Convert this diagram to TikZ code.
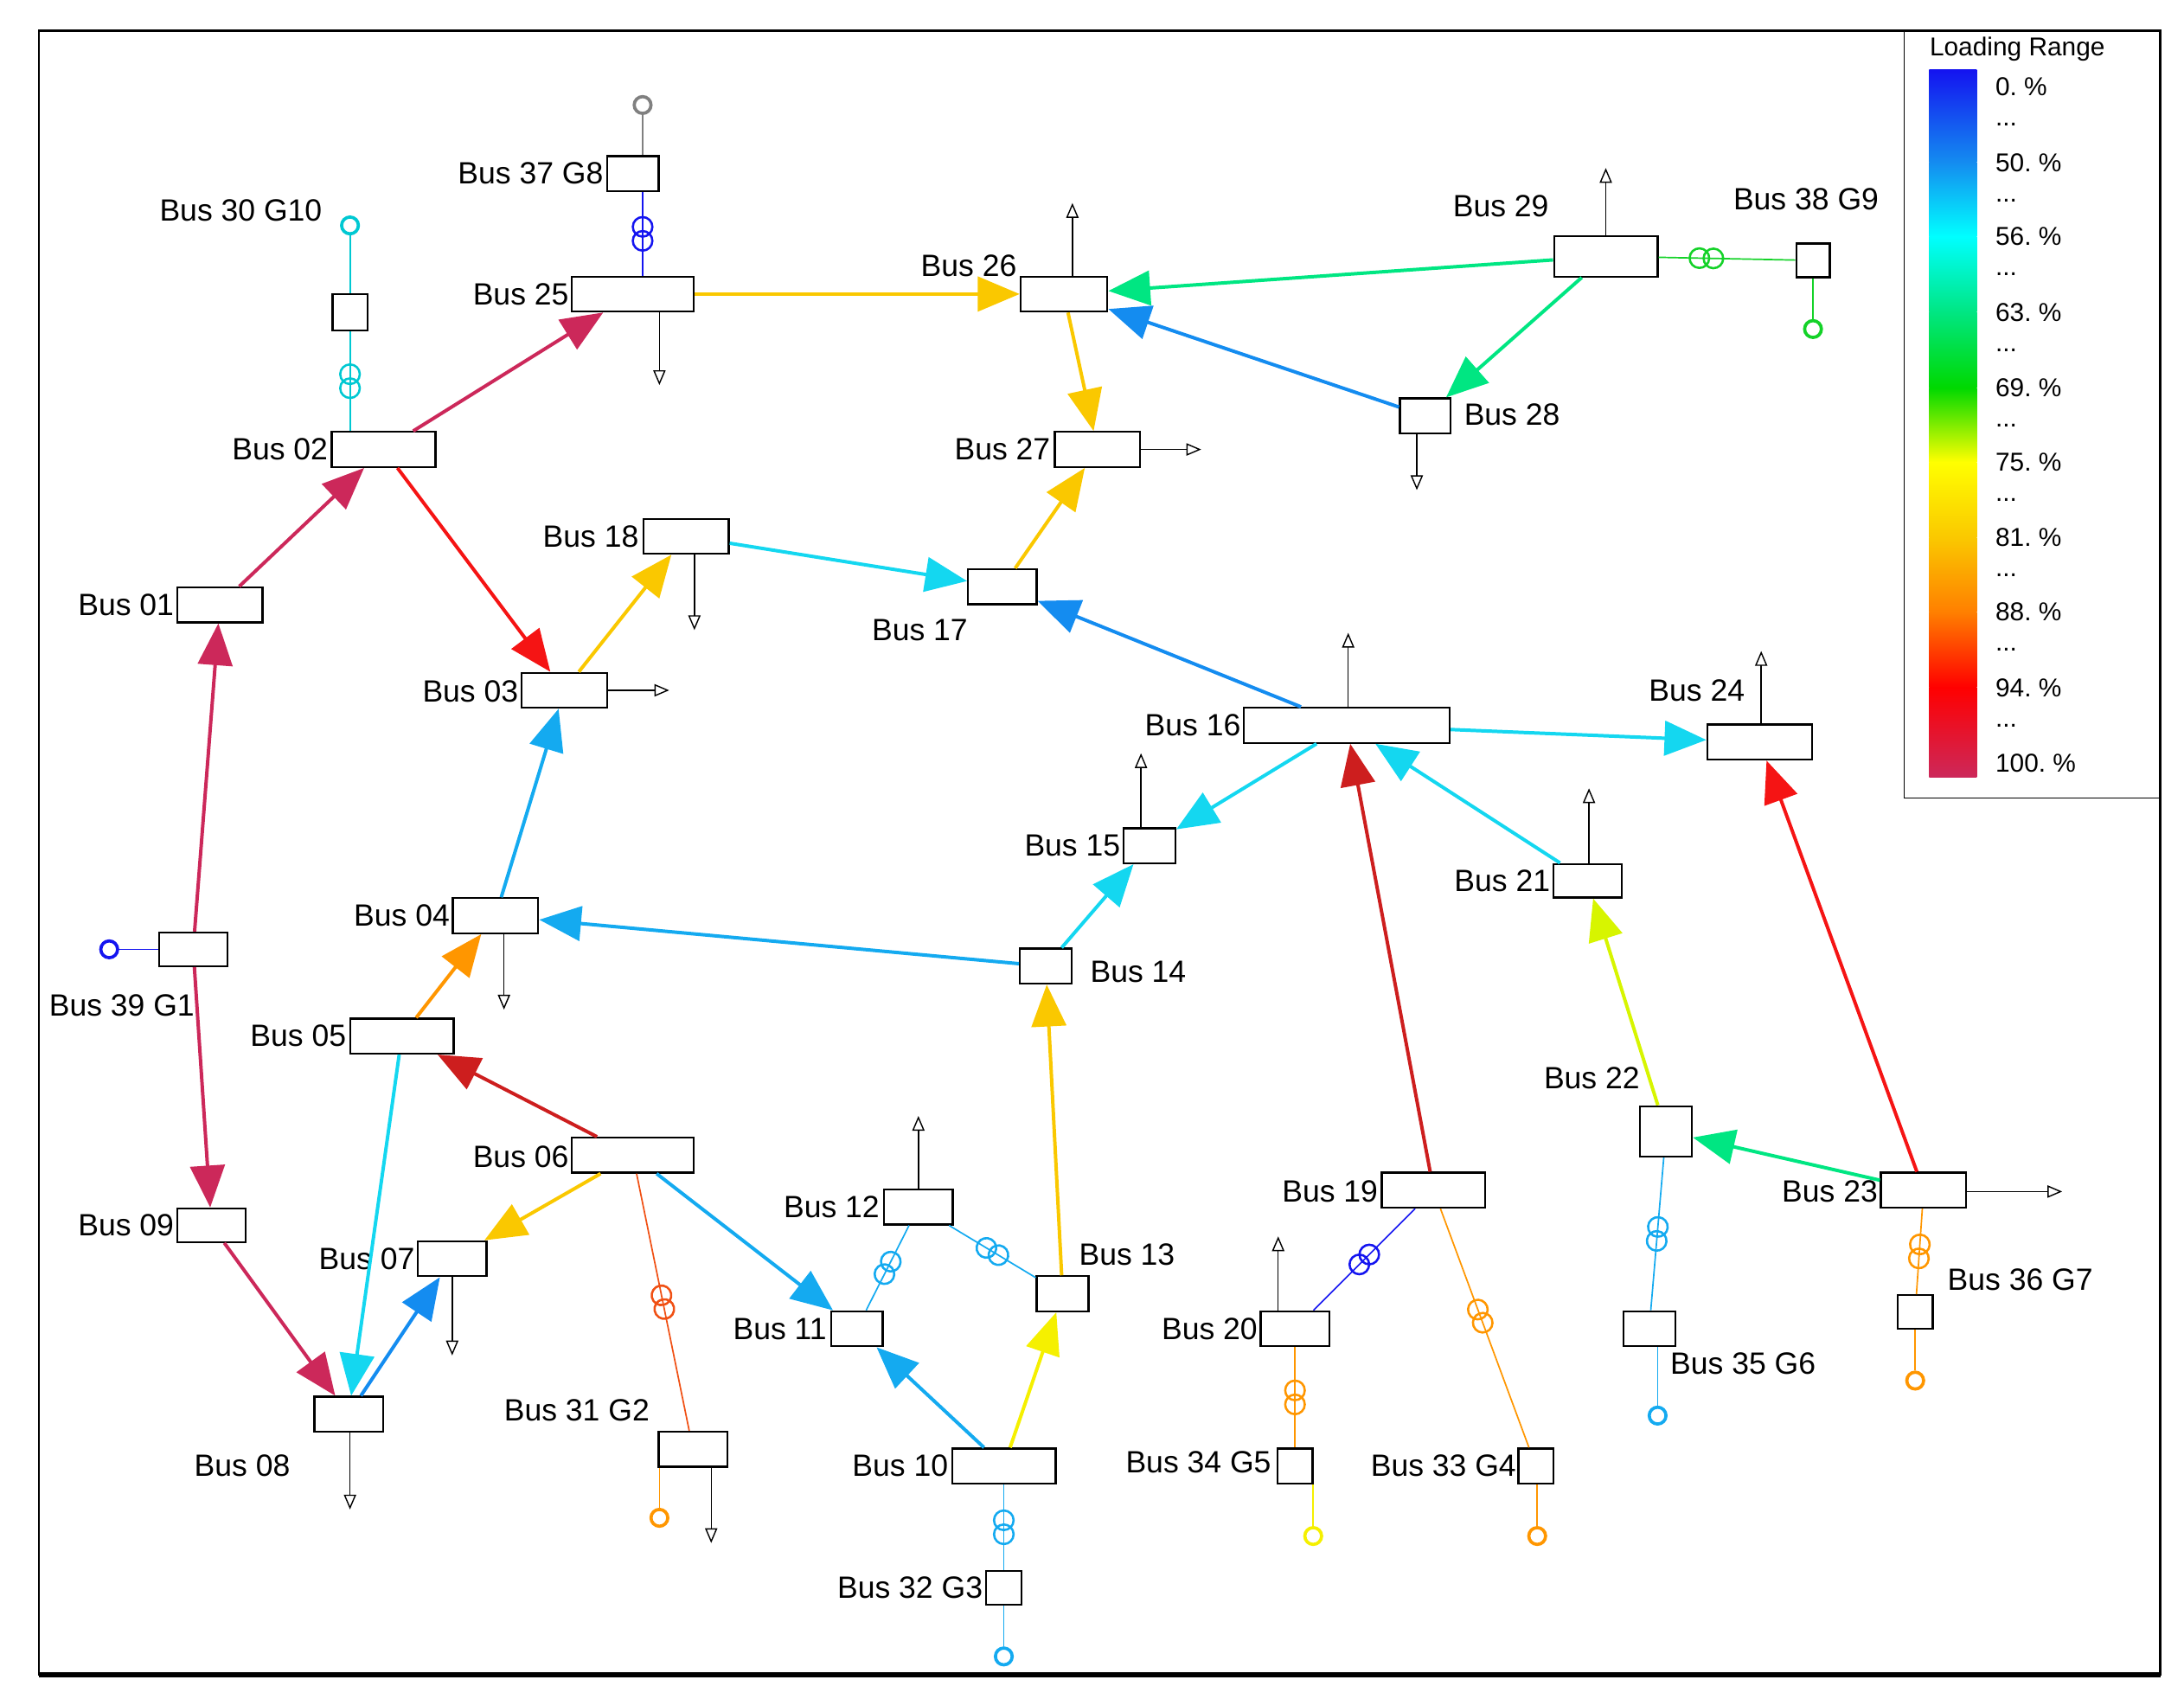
\documentclass[tikz,border=0pt]{standalone}
\usepackage{fontspec}
\setmainfont{Liberation Sans}
\usetikzlibrary{arrows.meta}
\definecolor{cA}{RGB}{204,40,90}
\definecolor{cR}{RGB}{245,20,20}
\definecolor{cDR}{RGB}{205,30,30}
\definecolor{cO}{RGB}{255,150,0}
\definecolor{cOR}{RGB}{240,80,20}
\definecolor{cGold}{RGB}{250,200,0}
\definecolor{cY}{RGB}{245,240,0}
\definecolor{cYG}{RGB}{215,245,0}
\definecolor{cSG}{RGB}{0,230,130}
\definecolor{cG}{RGB}{20,210,40}
\definecolor{cC}{RGB}{20,215,240}
\definecolor{cT}{RGB}{0,200,210}
\definecolor{cSky}{RGB}{20,170,240}
\definecolor{cDod}{RGB}{20,140,240}
\definecolor{cB}{RGB}{20,20,240}
\tikzset{
	bus/.style 2 args={draw,thick,fill=white,inner sep=0,minimum width=#1*0.2mm,minimum height=#2*0.2mm},
	lbl/.style={font=\fontsize{12.5}{14}\selectfont,inner sep=0},
	leg/.style={font=\fontsize{10.5}{12}\selectfont,anchor=west,inner sep=0},
	conn/.style={line width=1.4pt,-{Triangle[length=17pt,width=14pt]}},
	tline/.style={line width=0.6pt},
	load/.style={line width=0.5pt,-{Triangle[open,length=6pt,width=5pt]}},
	gen/.style={circle,draw,line width=1.3pt,inner sep=0,minimum size=2.4mm},
	trafo/.pic={\draw[line width=0.9pt] (-1mm,0) circle (1.4mm) (1mm,0) circle (1.4mm);}
}
\begin{document}
\begin{tikzpicture}[x=0.02cm,y=-0.02cm]
	\useasboundingbox (0,0) rectangle (1560,1213);
	% frame
	\draw[thick] (28,22) rectangle (1543,1196);
	\draw[line width=2pt] (28,1196) -- (1543,1196);
	% legend
	\draw[line width=0.5pt] (1360,22) -- (1360,570) -- (1543,570);
	\node[leg] (legt) at (1378,35) {Loading Range};
	\shade[top color=cB,bottom color=cDod] (1378,50) rectangle (1412,116);
	\shade[top color=cDod,bottom color=cyan] (1378,116) rectangle (1412,169);
	\shade[top color=cyan,bottom color=cSG] (1378,169) rectangle (1412,223);
	\shade[top color=cSG,bottom color=green!85!black] (1378,223) rectangle (1412,277);
	\shade[top color=green!85!black,bottom color=yellow] (1378,277) rectangle (1412,330);
	\shade[top color=yellow,bottom color=cGold] (1378,330) rectangle (1412,384);
	\shade[top color=cGold,bottom color=orange] (1378,384) rectangle (1412,437);
	\shade[top color=orange,bottom color=red] (1378,437) rectangle (1412,491);
	\shade[top color=red,bottom color=cA] (1378,491) rectangle (1412,555);
	\foreach \t/\y in {0./62,50./116,56./169,63./223,69./277,75./330,81./384,88./437,94./491,100./545}
		\node[leg] at (1425,\y) {\t\ \%};
	\foreach \y in {89,143,196,250,304,357,411,464,518}
		\node[leg] at (1425,\y) {...};
	% buses
	\node[bus={37}{25}] (b37) at (452,124) {};
	\node[bus={25}{26}] (b30) at (250,223) {};
	\node[bus={87}{25}] (b25) at (452,210) {};
	\node[bus={62}{25}] (b26) at (760,210) {};
	\node[bus={74}{29}] (b29) at (1147,183) {};
	\node[bus={24}{24}] (b38) at (1295,186) {};
	\node[bus={36}{25}] (b28) at (1018,297) {};
	\node[bus={74}{25}] (b02) at (274,321) {};
	\node[bus={61}{25}] (b27) at (784,321) {};
	\node[bus={61}{25}] (b18) at (490,383) {};
	\node[bus={49}{25}] (b17) at (716,419) {};
	\node[bus={61}{25}] (b01) at (157,432) {};
	\node[bus={61}{25}] (b03) at (403,493) {};
	\node[bus={147}{25}] (b16) at (962,518) {};
	\node[bus={75}{25}] (b24) at (1257,530) {};
	\node[bus={37}{25}] (b15) at (821,604) {};
	\node[bus={49}{24}] (b21) at (1134,629) {};
	\node[bus={61}{25}] (b04) at (354,654) {};
	\node[bus={49}{24}] (b39) at (138,678) {};
	\node[bus={37}{25}] (b14) at (747,690) {};
	\node[bus={74}{25}] (b05) at (287,740) {};
	\node[bus={37}{36}] (b22) at (1190,808) {};
	\node[bus={87}{25}] (b06) at (452,825) {};
	\node[bus={74}{25}] (b19) at (1024,850) {};
	\node[bus={61}{25}] (b23) at (1374,850) {};
	\node[bus={49}{25}] (b12) at (656,862) {};
	\node[bus={49}{24}] (b09) at (151,875) {};
	\node[bus={49}{25}] (b07) at (323,899) {};
	\node[bus={37}{25}] (b13) at (759,924) {};
	\node[bus={37}{25}] (b11) at (612,949) {};
	\node[bus={49}{25}] (b20) at (925,949) {};
	\node[bus={37}{25}] (b35) at (1178,949) {};
	\node[bus={25}{24}] (b36) at (1368,937) {};
	\node[bus={49}{25}] (b08) at (249,1010) {};
	\node[bus={49}{25}] (b31) at (495,1035) {};
	\node[bus={74}{25}] (b10) at (717,1047) {};
	\node[bus={25}{25}] (b34) at (925,1047) {};
	\node[bus={25}{25}] (b33) at (1097,1047) {};
	\node[bus={25}{24}] (b32) at (717,1134) {};
	% bus labels
	\node[lbl] (t37) at (379,124) {Bus 37 G8};
	\node[lbl] (t30) at (172,150) {Bus 30 G10};
	\node[lbl] (t25) at (372,210) {Bus 25};
	\node[lbl] (t26) at (692,190) {Bus 26};
	\node[lbl] (t29) at (1072,147) {Bus 29};
	\node[lbl] (t38) at (1290,142) {Bus 38 G9};
	\node[lbl] (t28) at (1080,296) {Bus 28};
	\node[lbl] (t02) at (200,321) {Bus 02};
	\node[lbl] (t27) at (716,321) {Bus 27};
	\node[lbl] (t18) at (422,383) {Bus 18};
	\node[lbl] (t17) at (657,450) {Bus 17};
	\node[lbl] (t01) at (90,432) {Bus 01};
	\node[lbl] (t03) at (336,494) {Bus 03};
	\node[lbl] (t16) at (852,518) {Bus 16};
	\node[lbl] (t24) at (1212,493) {Bus 24};
	\node[lbl] (t15) at (766,604) {Bus 15};
	\node[lbl] (t21) at (1073,629) {Bus 21};
	\node[lbl] (t04) at (287,654) {Bus 04};
	\node[lbl] (t39) at (87,718) {Bus 39 G1};
	\node[lbl] (t14) at (813,694) {Bus 14};
	\node[lbl] (t05) at (213,740) {Bus 05};
	\node[lbl] (t22) at (1137,770) {Bus 22};
	\node[lbl] (t06) at (372,826) {Bus 06};
	\node[lbl] (t19) at (950,851) {Bus 19};
	\node[lbl] (t23) at (1307,851) {Bus 23};
	\node[lbl] (t12) at (594,862) {Bus 12};
	\node[lbl] (t09) at (90,875) {Bus 09};
	\node[lbl] (t07) at (262,899) {Bus 07};
	\node[lbl] (t13) at (805,896) {Bus 13};
	\node[lbl] (t11) at (557,949) {Bus 11};
	\node[lbl] (t20) at (864,949) {Bus 20};
	\node[lbl] (t35) at (1245,974) {Bus 35 G6};
	\node[lbl] (t36) at (1443,914) {Bus 36 G7};
	\node[lbl] (t08) at (173,1047) {Bus 08};
	\node[lbl] (t31) at (412,1007) {Bus 31 G2};
	\node[lbl] (t10) at (643,1047) {Bus 10};
	\node[lbl] (t34) at (856,1044) {Bus 34 G5};
	\node[lbl] (t33) at (1031,1047) {Bus 33 G4};
	\node[lbl] (t32) at (650,1134) {Bus 32 G3};
	% lines
	\draw[conn,cGold] (b25) -- (b26);
	\draw[conn,cSG] (b29) -- (b26);
	\draw[conn,cDod] (b28) -- (b26);
	\draw[conn,cSG] (b29) -- (b28);
	\draw[conn,cGold] (b26) -- (b27);
	\draw[conn,cGold] (b17) -- (b27);
	\draw[conn,cC] (b18) -- (b17);
	\draw[conn,cDod] (b16) -- (b17);
	\draw[conn,cA] (b02) -- (b25);
	\draw[conn,cA] (b01) -- (b02);
	\draw[conn,cR] (b02) -- (b03);
	\draw[conn,cGold] (b03) -- (b18);
	\draw[conn,cA] (b39) -- (b01);
	\draw[conn,cA] (b39) -- (b09);
	\draw[conn,cSky] (b04) -- (b03);
	\draw[conn,cSky] (b14) -- (b04);
	\draw[conn,cO] (b05) -- (b04);
	\draw[conn,cDR] (b06) -- (b05);
	\draw[conn,cGold] (b06) -- (b07);
	\draw[conn,cSky] (b06) -- (b11);
	\draw[conn,cA] (b09) -- (b08);
	\draw[conn,cC] (b05) -- (b08);
	\draw[conn,cDod] (b08) -- (b07);
	\draw[conn,cSky] (b10) -- (b11);
	\draw[conn,cY] (b10) -- (b13);
	\draw[conn,cGold] (b13) -- (b14);
	\draw[conn,cC] (b14) -- (b15);
	\draw[conn,cC] (b16) -- (b15);
	\draw[conn,cC] (b21) -- (b16);
	\draw[conn,cDR] (b19) -- (b16);
	\draw[conn,cC] (b16) -- (b24);
	\draw[conn,cR] (b23) -- (b24);
	\draw[conn,cYG] (b22) -- (b21);
	\draw[conn,cSG] (b23) -- (b22);
	% generators
	\node[gen,cB] (g01) at (78,678) {};
	\node[gen,cT] (g10) at (250,161) {};
	\node[gen,gray] (g08) at (459,75) {};
	\node[gen,cG] (g09) at (1295,235) {};
	\node[gen,cO] (g02) at (471,1084) {};
	\node[gen,cSky] (g03) at (717,1183) {};
	\node[gen,cY] (g05) at (938,1097) {};
	\node[gen,cO] (g04) at (1098,1097) {};
	\node[gen,cSky] (g06) at (1184,1011) {};
	\node[gen,cO] (g07) at (1368,986) {};
	\draw[tline,cB] (g01) -- (b39);
	\draw[tline,cT] (g10) -- (b30);
	\draw[tline,gray] (g08) -- (b37.north -| g08);
	\draw[tline,cG] (g09) -- (b38);
	\draw[tline,cO] (g02) -- (b31.south -| g02);
	\draw[tline,cSky] (g03) -- (b32);
	\draw[tline,cY] (g05) -- (b34.south -| g05);
	\draw[tline,cO] (g04) -- (b33.south -| g04);
	\draw[tline,cSky] (g06) -- (b35.south -| g06);
	\draw[tline,cO] (g07) -- (b36);
	% transformers
	\draw[tline,cT] (b30) -- (b02.north -| b30) pic[pos=.5,sloped]{trafo};
	\draw[tline,cB] (b37.south -| g08) -- (b25.north -| g08) pic[pos=.5,sloped]{trafo};
	\draw[tline,cSky] (b12) -- (b11) pic[pos=.5,sloped]{trafo};
	\draw[tline,cSky] (b12) -- (b13) pic[pos=.5,sloped]{trafo};
	\draw[tline,cB] (b19) -- (b20) pic[pos=.5,sloped]{trafo};
	\draw[tline,cO] (b19) -- (b33) pic[pos=.45,sloped]{trafo};
	\draw[tline,cOR] (b06) -- (b31) pic[pos=.5,sloped]{trafo};
	\draw[tline,cSky] (b10) -- (b32) pic[pos=.5,sloped]{trafo};
	\draw[tline,cO] (b20) -- (b34) pic[pos=.5,sloped]{trafo};
	\draw[tline,cSky] (b22) -- (b35) pic[pos=.5,sloped]{trafo};
	\draw[tline,cO] (b23) -- (b36) pic[pos=.5,sloped]{trafo};
	\draw[tline,cG] (b29) -- (b38) pic[pos=.35,sloped]{trafo};
	% loads
	\foreach \b/\x/\y in {25/471/275,28/1012/350,18/496/450,04/360/721,07/323/968,08/250/1078,31/508/1102}{
		\coordinate (l\b) at (\x,\y);
		\draw[load] (b\b.south -| l\b) -- (l\b);
	}
	\foreach \b/\x/\y in {26/766/145,29/1147/120,16/963/452,24/1258/465,15/815/538,21/1135/563,12/656/797,20/913/883}{
		\coordinate (l\b) at (\x,\y);
		\draw[load] (b\b.north -| l\b) -- (l\b);
	}
	\foreach \b/\x/\y in {27/858/321,03/478/493,23/1473/851}{
		\coordinate (l\b) at (\x,\y);
		\draw[load] (b\b.east |- l\b) -- (l\b);
	}
\end{tikzpicture}
\end{document}
